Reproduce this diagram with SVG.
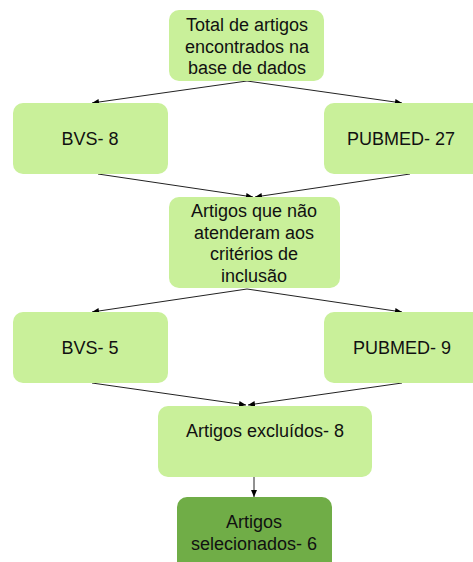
<svg xmlns="http://www.w3.org/2000/svg" width="473" height="562" viewBox="0 0 473 562">
<defs>
<marker id="ah" markerWidth="8" markerHeight="6" refX="7" refY="3" orient="auto" markerUnits="userSpaceOnUse">
<path d="M0,0 L7,3 L0,6 Z" fill="#000"/>
</marker>
<style>
.n{fill:#c9f09a;}
.d{fill:#70ad47;}
.t{font-family:"Liberation Sans",Arial,sans-serif;font-size:18px;fill:#111;text-anchor:middle;}
.c{stroke:#222;stroke-width:1;fill:none;marker-end:url(#ah);}
</style>
</defs>
<rect width="473" height="562" fill="#fff"/>
<g id="connectors">
<line class="c" x1="247" y1="81" x2="92" y2="103"/>
<line class="c" x1="247" y1="81" x2="402" y2="103"/>
<line class="c" x1="98" y1="174" x2="253" y2="197"/>
<line class="c" x1="410" y1="174" x2="255" y2="197"/>
<line class="c" x1="247" y1="289" x2="92" y2="312"/>
<line class="c" x1="247" y1="289" x2="402" y2="312"/>
<line class="c" x1="92" y1="383" x2="246" y2="405"/>
<line class="c" x1="402" y1="383" x2="248" y2="405"/>
<line class="c" x1="254" y1="476" x2="254" y2="497"/>
</g>
<g id="total">
<rect class="n" x="169" y="10" width="155" height="71" rx="10"/>
<text class="t" x="247" y="31">Total de artigos</text>
<text class="t" x="247" y="53">encontrados na</text>
<text class="t" x="247" y="74">base de dados</text>
</g>
<g id="bvs8">
<rect class="n" x="13" y="103" width="155" height="71" rx="10"/>
<text class="t" x="90" y="145">BVS- 8</text>
</g>
<g id="pubmed27">
<rect class="n" x="324" y="103" width="160" height="71" rx="10"/>
<text class="t" x="401" y="145">PUBMED- 27</text>
</g>
<g id="naoatenderam">
<rect class="n" x="169" y="197" width="171" height="91" rx="10"/>
<text class="t" x="254" y="217">Artigos que não</text>
<text class="t" x="254" y="239">atenderam aos</text>
<text class="t" x="254" y="260">critérios de</text>
<text class="t" x="254" y="282">inclusão</text>
</g>
<g id="bvs5">
<rect class="n" x="13" y="312" width="155" height="71" rx="10"/>
<text class="t" x="90" y="354">BVS- 5</text>
</g>
<g id="pubmed9">
<rect class="n" x="324" y="312" width="160" height="71" rx="10"/>
<text class="t" x="402" y="354">PUBMED- 9</text>
</g>
<g id="excluidos">
<rect class="n" x="158" y="406" width="214" height="71" rx="10"/>
<text class="t" x="265" y="437">Artigos excluídos- 8</text>
</g>
<g id="selecionados">
<rect class="d" x="177" y="497" width="155" height="80" rx="10"/>
<text class="t" x="254" y="528">Artigos</text>
<text class="t" x="254" y="550">selecionados- 6</text>
</g>
</svg>
